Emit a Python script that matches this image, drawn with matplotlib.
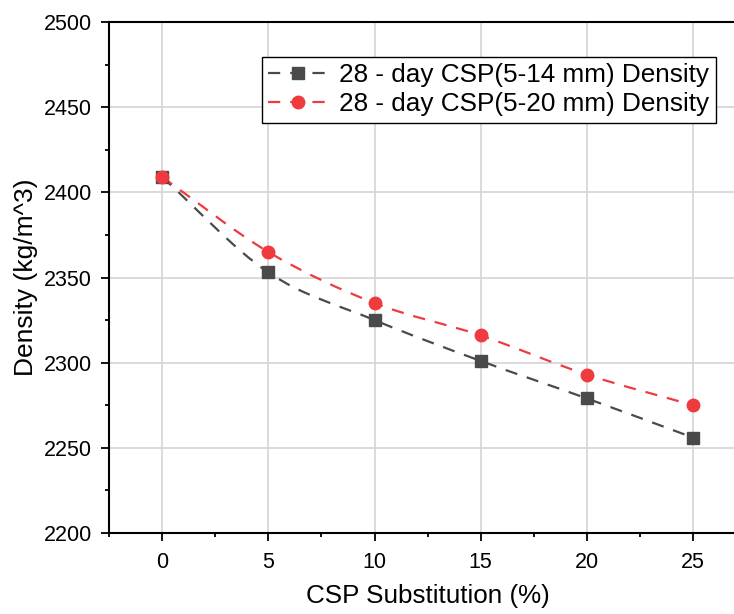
import numpy as np
import matplotlib.pyplot as plt
from matplotlib.path import Path
from matplotlib.patches import PathPatch
from matplotlib.ticker import MultipleLocator

# ------------- data ------------- #
substitution = [0, 5, 10, 15, 20, 25]
density_5_14 = [2409, 2353, 2325, 2301, 2279, 2256]
density_5_20 = [2409, 2365, 2335, 2316, 2293, 2275]

label_5_14 = "28 - day CSP(5-14 mm) Density"
label_5_20 = "28 - day CSP(5-20 mm) Density"

plt.rcParams['font.family'] = ['Liberation Sans', 'DejaVu Sans']

DASH = (0, (5.5, 4.5))


def smooth_path(x, y):
    """
    Catmull-Rom curve through the points, as cubic bezier segments
    """
    x = np.asarray(x, float)
    y = np.asarray(y, float)
    px = np.concatenate([[2 * x[0] - x[1]], x, [2 * x[-1] - x[-2]]])
    py = np.concatenate([[2 * y[0] - y[1]], y, [2 * y[-1] - y[-2]]])
    verts = [(x[0], y[0])]
    codes = [Path.MOVETO]
    for i in range(1, len(px) - 2):
        c1 = (px[i] + (px[i + 1] - px[i - 1]) / 6, py[i] + (py[i + 1] - py[i - 1]) / 6)
        c2 = (px[i + 1] - (px[i + 2] - px[i]) / 6, py[i + 1] - (py[i + 2] - py[i]) / 6)
        verts += [c1, c2, (px[i + 1], py[i + 1])]
        codes += [Path.CURVE4] * 3
    return Path(verts, codes)


fig = plt.figure(figsize=(7.34, 6.14), dpi=100)
ax = fig.add_axes([109 / 734, 81 / 614, 637.2 / 734, 511 / 614])

series = [
    (density_5_14, "#4a4a4a", "s", 8, label_5_14),
    (density_5_20, "#ef3a3e", "o", 9, label_5_20),
]
for vals, color, marker, ms, label in series:
    patch = PathPatch(smooth_path(substitution, vals), facecolor="none", edgecolor=color,
                      lw=1.6, linestyle=DASH, zorder=3)
    ax.add_patch(patch)
    ax.plot(substitution, vals, linestyle="none", marker=marker, color=color,
            markersize=ms, zorder=4)
    # proxy for legend
    ax.plot([], [], color=color, lw=1.6, linestyle=DASH, marker=marker,
            markersize=ms, label=label)

ax.set_xlim(-2.5, 27.5)
ax.set_ylim(2200, 2500)
ax.xaxis.set_major_locator(MultipleLocator(5))
ax.xaxis.set_minor_locator(MultipleLocator(2.5))
ax.yaxis.set_major_locator(MultipleLocator(50))
ax.yaxis.set_minor_locator(MultipleLocator(25))
ax.grid(True, which="major", color="#d4d4d4", lw=1.2)
ax.set_axisbelow(True)

for s in ["left", "bottom", "top", "right"]:
    ax.spines[s].set_linewidth(1.5)
ax.tick_params(which="major", direction="out", length=5.5, width=1.3,
               top=False, right=False, labelsize=15.5)
ax.tick_params(which="minor", direction="out", length=3, width=1.3,
               top=False, right=False)
ax.tick_params(axis="y", pad=7)
ax.tick_params(axis="x", pad=8)

ax.set_xlabel("CSP Substitution (%)", fontsize=18.7, labelpad=8)
ax.set_ylabel("Density (kg/m^3)", fontsize=19, labelpad=4)

handles, labels = ax.get_legend_handles_labels()
ax.legend(handles[-2:], labels[-2:], loc="upper left", bbox_to_anchor=(0.240, 0.932),
          fontsize=18.8, frameon=True, fancybox=False, edgecolor="black",
          framealpha=1, handlelength=2.3, handletextpad=0.4, borderpad=0.25,
          labelspacing=0.2, borderaxespad=0)

fig.savefig("out.png", dpi=100)
